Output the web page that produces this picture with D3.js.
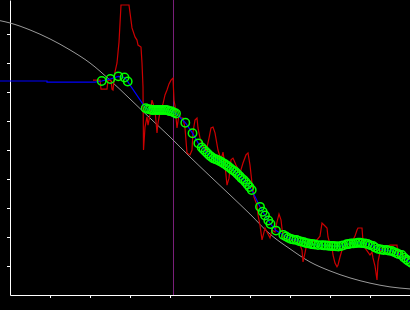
<!DOCTYPE html>
<html>
<head>
<meta charset="utf-8">
<script src="https://cdn.jsdelivr.net/npm/d3@7"></script>
<style>
  html, body { margin: 0; padding: 0; background: #000; }
  svg { display: block; }
</style>
</head>
<body>
<div id="chart"></div>
<script>
// Reference curve (grey)
const refX = [-2.5, 0, 5, 10, 15, 20, 25, 30, 35, 40, 45, 50, 55, 60, 65, 70, 75, 80, 85, 90, 95, 100];
const refY = [9.46, 9.38, 9.14, 8.83, 8.45, 8.0, 7.41, 6.76, 6.10, 5.45, 4.76, 4.10, 3.45, 2.79, 2.10, 1.59, 1.14, 0.83, 0.59, 0.41, 0.28, 0.21];

// Raw signal (red)
const rawX = [20.75, 22.5, 22.75, 24.25, 24.5, 25.25, 25.5, 25.75, 26.25, 26.75, 27.25, 27.75, 29.75, 30.5, 31.25, 31.75, 32.0, 32.75, 33.0, 33.25, 33.38,
  33.75, 34.25, 34.5, 35.0, 35.5, 36.25, 36.75, 37.0, 37.5, 38.25, 38.75, 39.25, 39.75, 40.25, 40.75, 41.0, 41.25, 41.75, 42.25, 42.75, 43.25,
  43.75, 44.25, 45.0, 45.5, 45.75, 46.25, 46.75, 47.0, 47.5, 48.25, 49.0, 49.75, 50.25, 50.75, 51.25, 52.0, 52.75, 53.25, 53.75, 54.25, 54.75,
  55.25, 55.75, 56.5, 57.5, 58.25, 59.0, 59.5, 60.0, 60.5, 61.0, 61.75, 62.0, 62.5, 63.0, 63.25, 63.75, 64.25, 65.0, 65.5, 66.25, 66.75, 67.25,
  67.75, 68.25, 69.25, 70.5, 72.0, 73.0, 73.25, 73.75, 74.25, 75.0, 75.75, 76.75, 77.5, 78.0, 78.75, 79.25, 79.5, 80.0, 80.5, 80.75, 81.25,
  81.75, 82.0, 82.5, 83.0, 83.75, 85.0, 85.75, 86.25, 86.75, 87.0, 88.0, 88.25, 88.75, 89.5, 90.0, 90.5, 90.75, 91.25, 91.75, 92.0, 92.5,
  93.25, 94.25, 95.0, 95.75, 96.75, 97.0, 97.5, 98.0, 98.5, 99.0, 100.0];
const rawY = [7.41, 7.41, 7.10, 7.10, 7.41, 7.41, 7.10, 7.07, 7.69, 8.0, 8.72, 10.0, 10.0, 9.21, 8.90, 8.79, 8.62, 8.55, 8.0, 7.17, 5.0,
  5.79, 6.14, 5.86, 6.21, 6.72, 6.38, 5.59, 5.93, 6.31, 6.59, 6.90, 7.07, 7.28, 7.41, 7.48, 6.72, 6.52, 5.76, 6.21, 6.10, 6.10,
  5.76, 4.90, 4.83, 5.0, 5.62, 6.03, 6.10, 5.76, 5.41, 5.14, 4.93, 5.41, 5.76, 5.79, 5.59, 5.0, 4.66, 4.93, 4.48, 3.79, 4.03,
  4.66, 4.72, 4.48, 4.21, 4.55, 4.83, 4.90, 4.48, 3.86, 3.38, 3.10, 2.76, 2.41, 1.90, 2.03, 2.31, 2.17, 1.97, 2.24, 2.17, 2.52, 2.79,
  2.59, 2.0, 1.90, 1.90, 1.90, 1.55, 1.14, 1.45, 1.79, 1.90, 1.83, 1.90, 2.03, 2.48, 2.38, 2.31, 2.0, 1.76, 1.66, 1.38, 1.10,
  0.97, 1.03, 1.31, 1.55, 1.76, 1.72, 1.90, 2.03, 2.24, 2.31, 2.31, 1.86, 1.62, 1.48, 1.38, 1.48, 1.28, 1.0, 0.52, 1.14, 1.48,
  1.66, 1.66, 1.72, 1.72, 1.72, 1.34, 1.45, 1.48, 1.28, 1.28, 1.28];

// Flat lead-in of the fitted line (blue) before the first marker
const leadX = [-2.5, 9.25, 9.25, 21.25];
const leadY = [7.38, 7.38, 7.34, 7.34];

// Fitted points (green markers, joined by the blue line)
const fitX = [22.93, 25.08, 27.08, 28.63, 29.43, 33.93, 34.5, 35.0, 35.5, 36.0, 36.5, 37.0, 37.5, 38.0, 38.5, 39.0, 39.5, 40.0, 40.5, 41.0, 41.5,
  43.83, 45.63, 47.08, 47.93, 48.38, 48.88, 49.38, 49.88, 50.38, 50.88, 51.38, 51.88, 52.38, 52.88, 53.38, 53.88, 54.38, 54.88, 55.38, 55.88,
  56.38, 56.88, 57.38, 57.88, 58.38, 58.88, 59.38, 59.88, 60.43, 62.5, 63.18, 63.75, 64.58, 65.13, 66.5, 68.33, 69.0, 69.58, 70.25, 70.88,
  71.63, 72.25, 72.93, 73.5, 74.0, 74.58, 75.25, 75.75, 76.25, 77.0, 77.93, 78.5, 79.0, 79.58, 80.25, 80.83, 81.5, 82.08, 82.75, 83.25,
  84.18, 84.75, 85.25, 85.83, 86.5, 87.0, 87.5, 88.0, 88.75, 89.38, 90.0, 90.75, 91.25, 92.08, 92.75, 93.38, 94.18, 94.75, 95.43, 96.0,
  96.68, 97.13, 97.93, 98.5, 99.13, 99.63, 100.25];
const fitY = [7.38, 7.45, 7.54, 7.50, 7.36, 6.44, 6.41, 6.40, 6.38, 6.38, 6.38, 6.38, 6.38, 6.38, 6.38, 6.38, 6.36, 6.34, 6.33, 6.29, 6.26,
  5.94, 5.58, 5.23, 5.09, 5.02, 4.95, 4.88, 4.81, 4.76, 4.71, 4.68, 4.66, 4.62, 4.59, 4.54, 4.50, 4.45, 4.40, 4.34, 4.29,
  4.24, 4.17, 4.10, 4.03, 3.97, 3.90, 3.81, 3.72, 3.62, 3.04, 2.87, 2.74, 2.57, 2.45, 2.22, 2.07, 2.02, 1.97, 1.93, 1.91,
  1.90, 1.86, 1.84, 1.82, 1.79, 1.78, 1.76, 1.75, 1.74, 1.72, 1.72, 1.71, 1.71, 1.70, 1.69, 1.69, 1.68, 1.67, 1.69, 1.71,
  1.75, 1.76, 1.78, 1.78, 1.79, 1.80, 1.80, 1.79, 1.78, 1.76, 1.72, 1.69, 1.64, 1.59, 1.57, 1.55, 1.55, 1.53, 1.52, 1.48,
  1.44, 1.41, 1.38, 1.29, 1.22, 1.17, 1.12];

// Marker position (vertical line)
const markerX = 40.75;

const xTicks = [10, 20, 30, 40, 50, 60, 70, 80, 90];
const yTicks = [1, 2, 3, 4, 5, 6, 7, 8, 9];

const width = 410, height = 310;

const svg = d3.select('#chart')
    .append('svg')
    .attr('width', width)
    .attr('height', height)
    .style('background', '#000');

const x = d3.scaleLinear().domain([0, 100]).range([10, 410]);
const y = d3.scaleLinear().domain([0, 295 / 29]).range([295, 0]);

const zip = (xs, ys) => xs.map((v, i) => [v, ys[i]]);

// Axes
const xAxis = svg.append('g')
    .attr('transform', `translate(0,${y(0)})`)
    .call(d3.axisBottom(x).tickValues(xTicks).tickSize(3).tickSizeOuter(0).tickFormat(''));
const yAxis = svg.append('g')
    .attr('transform', `translate(${x(0)},0)`)
    .call(d3.axisLeft(y).tickValues(yTicks).tickSize(3).tickSizeOuter(0).tickFormat(''));
[xAxis, yAxis].forEach(g => {
    g.selectAll('path, line').attr('stroke', '#fff').attr('stroke-width', 1);
});

// Vertical marker
svg.append('line')
    .attr('x1', Math.round(x(markerX)) + 0.5)
    .attr('x2', Math.round(x(markerX)) + 0.5)
    .attr('y1', y(y.domain()[1]))
    .attr('y2', y(0))
    .attr('stroke', '#7a1f7a')
    .attr('stroke-width', 1);

// Grey reference curve
svg.append('path')
    .datum(zip(refX, refY))
    .attr('fill', 'none')
    .attr('stroke', '#9a9a9a')
    .attr('stroke-width', 1)
    .attr('d', d3.line().x(d => x(d[0])).y(d => y(d[1])).curve(d3.curveMonotoneX));

// Red raw signal
svg.append('path')
    .datum(zip(rawX, rawY))
    .attr('fill', 'none')
    .attr('stroke', '#cc0000')
    .attr('stroke-width', 1.2)
    .attr('d', d3.line().x(d => x(d[0])).y(d => y(d[1])));

// Blue fitted line
const fitPts = zip(fitX, fitY);
svg.append('path')
    .datum(zip(leadX, leadY).concat(fitPts))
    .attr('fill', 'none')
    .attr('stroke', '#0000ff')
    .attr('stroke-width', 1.2)
    .attr('d', d3.line().x(d => x(d[0])).y(d => y(d[1])));

// Green markers
svg.append('g')
    .selectAll('circle')
    .data(fitPts)
    .enter()
    .append('circle')
    .attr('cx', d => x(d[0]))
    .attr('cy', d => y(d[1]))
    .attr('r', 4.2)
    .attr('fill', 'none')
    .attr('stroke', '#00ff00')
    .attr('stroke-width', 1.5);
</script>
</body>
</html>
